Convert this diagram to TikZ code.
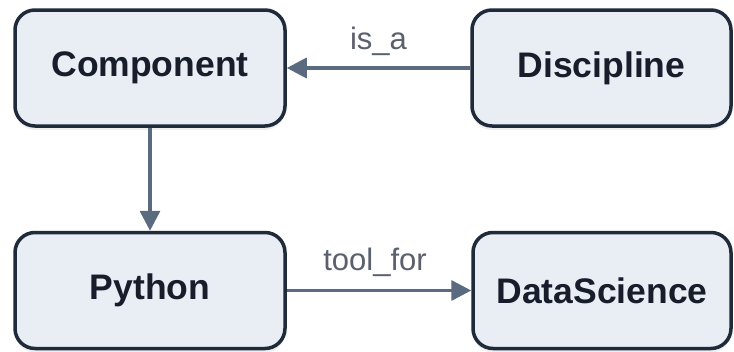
\documentclass[tikz,border=0pt]{standalone}
\usepackage{fontspec}
\setmainfont{Liberation Sans}
\usetikzlibrary{arrows.meta,shadows}
\definecolor{boxfill}{HTML}{E9EDF4}
\definecolor{boxline}{HTML}{1F2A3A}
\definecolor{boxtext}{HTML}{171D2B}
\definecolor{edgecol}{HTML}{5A6A7F}
\definecolor{labelcol}{HTML}{5A606C}
\tikzset{
  entity/.style={draw=boxline, line width=3.5pt, fill=boxfill, rounded corners=20pt,
    minimum height=116pt, text=boxtext,
    font=\fontsize{35.5}{40}\selectfont\bfseries,
    drop shadow={opacity=0.12, shadow xshift=0pt, shadow yshift=-4pt}},
  relation/.style={draw=edgecol, line width=3.5pt,
    -{Triangle[length=20pt,width=20pt]}},
  rellabel/.style={text=labelcol, font=\fontsize{31}{36}\selectfont, inner sep=0pt}
}
\begin{document}
\begin{tikzpicture}[x=1pt,y=-1pt]
  \useasboundingbox[fill=white] (0,0) rectangle (734,351);
  \node[entity, minimum width=270pt] (comp) at (150,68) {Component};
  \node[entity, minimum width=259pt] (disc) at (601.5,68) {Discipline};
  \node[entity, minimum width=270pt] (py)   at (150,290.5) {Python};
  \node[entity, minimum width=258pt] (ds)   at (602,290.5) {DataScience};
  \draw[relation] (disc.west) -- node[rellabel, above=11pt] {is\_a} (comp.east);
  \draw[relation] (comp.south) -- (py.north);
  \draw[relation] (py.east) -- node[rellabel, above=12pt, xshift=-4pt] {tool\_for} (ds.west);
\end{tikzpicture}
\end{document}
